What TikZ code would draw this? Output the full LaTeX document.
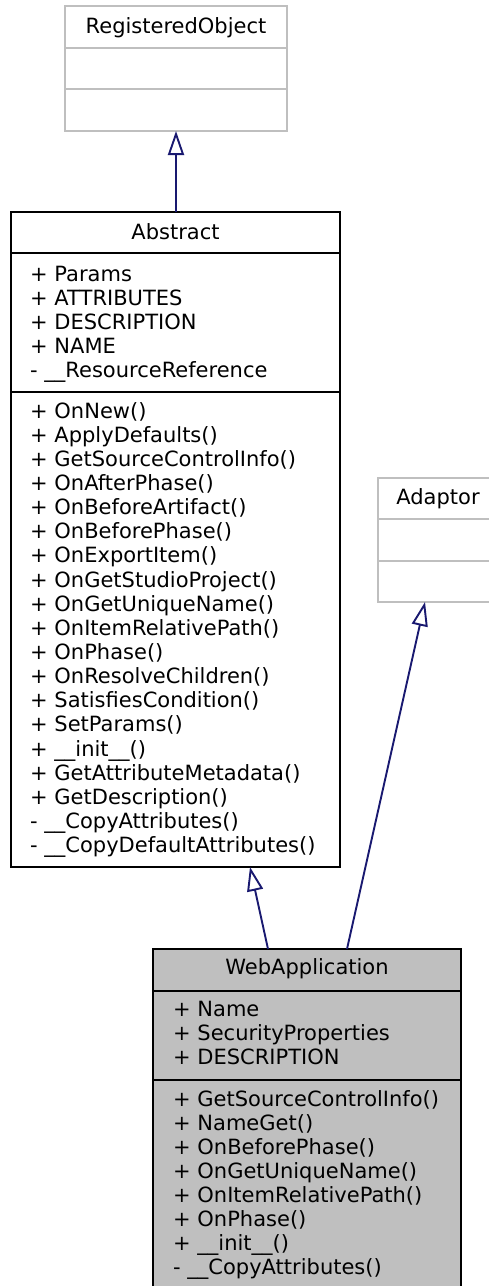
\documentclass[tikz,border=0pt]{standalone}
\usepackage{fontspec}
\setmainfont{DejaVu Sans}
\usetikzlibrary{arrows.meta}
\definecolor{edgeblue}{HTML}{191970}
\definecolor{lgrey}{HTML}{BFBFBF}
\begin{document}
\begin{tikzpicture}[x=1pt,y=-1pt,
  classbox/.style={draw, line width=1.9pt, inner sep=0pt, outer sep=0pt, anchor=north west},
  greybox/.style={classbox, draw=lgrey},
  sep/.style={line width=1.9pt},
  greysep/.style={sep, draw=lgrey},
  txt/.style={anchor=base west, inner sep=0pt, font=\fontsize{21}{24}\selectfont},
  ttl/.style={anchor=base, inner sep=0pt, font=\fontsize{21}{24}\selectfont},
  inherit/.style={draw=edgeblue, line width=1.9pt, -{Triangle[open,length=24pt,width=16pt,fill=white]}}]
\useasboundingbox (0,0) rectangle (489,1286);
\clip (0,0) rectangle (489,1286);

% RegisteredObject
\node[greybox, minimum width=222pt, minimum height=125pt] (reg) at (65,6) {};
\draw[greysep] (65,48) -- (287,48);
\draw[greysep] (65,89) -- (287,89);
\node[ttl] (regt) at (176,33) {RegisteredObject};

% Abstract
\node[classbox, minimum width=329pt, minimum height=655pt] (abs) at (11,212) {};
\draw[sep] (11,253) -- (340,253);
\draw[sep] (11,392) -- (340,392);
\node[ttl] (abst) at (175.5,239) {Abstract};
\foreach \t [count=\i from 0] in {+ Params, + ATTRIBUTES, + DESCRIPTION, + NAME, - \_\_ResourceReference}
  \node[txt] (absa\i) at (30,281+24*\i) {\t};
\foreach \t [count=\i from 0] in {+ OnNew(), + ApplyDefaults(), + GetSourceControlInfo(), + OnAfterPhase(),
  + OnBeforeArtifact(), + OnBeforePhase(), + OnExportItem(), + OnGetStudioProject(), + OnGetUniqueName(),
  + OnItemRelativePath(), + OnPhase(), + OnResolveChildren(), + SatisfiesCondition(), + SetParams(),
  + \_\_init\_\_(), + GetAttributeMetadata(), + GetDescription(), - \_\_CopyAttributes(),
  - \_\_CopyDefaultAttributes()}
  \node[txt] (absm\i) at (30,418+24.15*\i) {\t};

% Adaptor
\node[greybox, minimum width=120pt, minimum height=124pt] (ada) at (378,478) {};
\draw[greysep] (378,519) -- (498,519);
\draw[greysep] (378,561) -- (498,561);
\node[ttl] (adat) at (438,504) {Adaptor};

% WebApplication
\node[classbox, fill=lgrey, minimum width=308pt, minimum height=345pt] (web) at (153,949) {};
\draw[sep] (153,991) -- (461,991);
\draw[sep] (153,1080) -- (461,1080);
\node[ttl] (webt) at (307,974) {WebApplication};
\foreach \t [count=\i from 0] in {+ Name, + SecurityProperties, + DESCRIPTION}
  \node[txt] (weba\i) at (173,1016+24*\i) {\t};
\foreach \t [count=\i from 0] in {+ GetSourceControlInfo(), + NameGet(), + OnBeforePhase(),
  + OnGetUniqueName(), + OnItemRelativePath(), + OnPhase(), + \_\_init\_\_(), - \_\_CopyAttributes()}
  \node[txt] (webm\i) at (173,1106+24*\i) {\t};

% connectors
\coordinate (absT) at (176,212);
\coordinate (regB) at (176,131);
\coordinate (webL) at (268,949);
\coordinate (absB) at (250,867);
\coordinate (webR) at (347,949);
\coordinate (adaB) at (425,602);
\draw[inherit] (absT) -- (regB);
\draw[inherit] (webL) -- (absB);
\draw[inherit] (webR) -- (adaB);
\end{tikzpicture}
\end{document}
